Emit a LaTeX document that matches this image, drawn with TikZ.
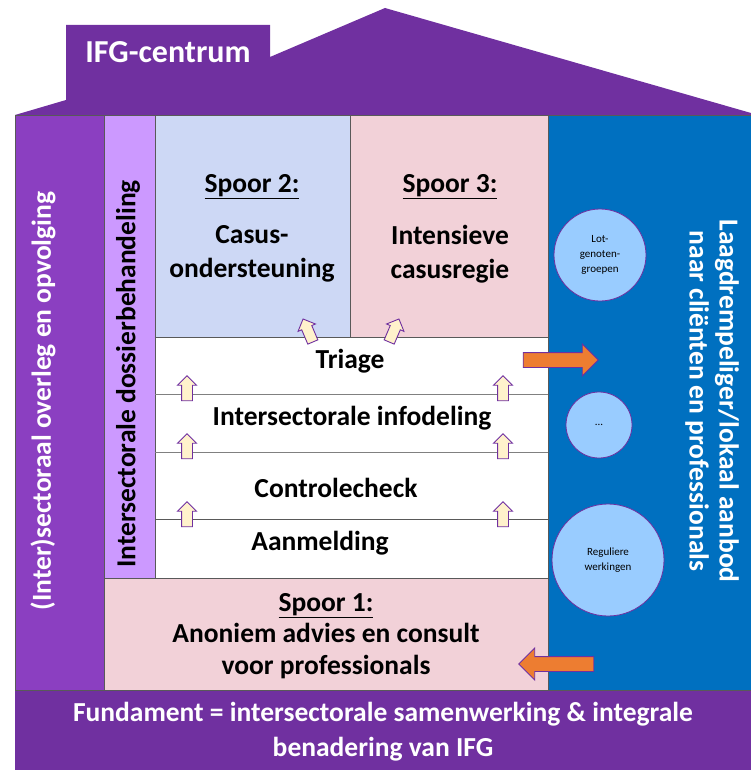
\documentclass[tikz,border=0pt]{standalone}
\usepackage{fontspec}
\setmainfont{Carlito}
\usepackage{tkz-graph}
\usetikzlibrary{arrows}
\usetikzlibrary{shapes}

\definecolor{purpleDark}{HTML}{7030A0}
\definecolor{purpleMid}{HTML}{8B3FC1}
\definecolor{purpleLight}{HTML}{CC99FF}
\definecolor{blueSpoor}{HTML}{CDD8F5}
\definecolor{pinkSpoor}{HTML}{F2D1D8}
\definecolor{blueColumn}{HTML}{0070C0}
\definecolor{circleBlue}{HTML}{99CCFF}
\definecolor{arrowOrange}{HTML}{ED7D31}
\definecolor{arrowCream}{HTML}{FFF2CC}
\definecolor{lineGray}{HTML}{595959}

\begin{document}
\begin{tikzpicture}[x = 1pt, y = -1pt]
	\tikzstyle{VertexStyle} = []
	\tikzstyle{EdgeStyle} = []
	\tikzstyle{boxStyle} = [draw = lineGray, line width = 0.7pt]
	\tikzstyle{labelStyle} = [align = center, inner sep = 0pt, font = \fontsize{27.5}{32}\selectfont\bfseries]
	\tikzstyle{whiteLabelStyle} = [labelStyle, text = white]
	\tikzstyle{circleStyle} = [shape = circle, draw = purpleDark, fill = circleBlue, line width = 0.8pt, align = center, inner sep = 0pt, font = \fontsize{11}{15}\selectfont]
	\tikzstyle{upArrowStyle} = [single arrow, draw = purpleDark, fill = arrowCream, line width = 0.9pt, minimum height = 25pt, single arrow head extend = 4pt, inner xsep = 0pt, inner ysep = 5pt]
	\tikzstyle{sideArrowStyle} = [single arrow, draw = purpleDark, fill = arrowOrange, line width = 0.9pt, minimum height = 75pt, single arrow head extend = 8.5pt, inner xsep = 0pt, inner ysep = 7pt]
	\useasboundingbox (0,0) rectangle (751,770);
	\fill[purpleDark] (15,115) -- (66,100) -- (66,25) -- (270,25) -- (270,57) -- (385,8) -- (751,113) -- (751,115) -- cycle;
	\fill[purpleDark] (15,690) rectangle (751,770);
	\draw[boxStyle, fill = purpleMid] (15,115) rectangle (104,690);
	\draw[boxStyle, fill = purpleLight] (104,115) rectangle (155,578);
	\draw[boxStyle, fill = blueSpoor] (155,115) rectangle (350,337);
	\draw[boxStyle, fill = pinkSpoor] (350,115) rectangle (548,337);
	\draw[boxStyle, fill = white] (155,337) rectangle (548,578);
	\draw[boxStyle, fill = pinkSpoor] (104,578) rectangle (548,690);
	\draw[boxStyle, fill = blueColumn] (548,115) rectangle (751,690);
	\draw[draw = gray, line width = 0.7pt] (155,394) -- (548,394);
	\draw[draw = gray, line width = 0.7pt] (155,452) -- (548,452);
	\draw[boxStyle] (155,519) -- (548,519);
	\node[whiteLabelStyle, font = \fontsize{32}{36}\selectfont\bfseries] (title) at (168,52) {IFG-centrum};
	\node[whiteLabelStyle, rotate = 90] (overleg) at (43,401) {(Inter)sectoraal overleg en opvolging};
	\node[labelStyle, rotate = 90] (dossier) at (128,374) {Intersectorale dossierbehandeling};
	\node[whiteLabelStyle, rotate = -90, font = \fontsize{27.5}{30}\selectfont\bfseries] (aanbod) at (712,401) {Laagdrempeliger/lokaal aanbod\\naar cliënten en professionals};
	\node[labelStyle] (spoor2) at (252,187) {\underline{Spoor 2:}};
	\node[labelStyle, font = \fontsize{27.5}{34}\selectfont\bfseries] (casus) at (252,254) {Casus-\\ondersteuning};
	\node[labelStyle] (spoor3) at (450,187) {\underline{Spoor 3:}};
	\node[labelStyle, font = \fontsize{27.5}{34}\selectfont\bfseries] (regie) at (450,254) {Intensieve\\casusregie};
	\node[labelStyle] (triage) at (350,361) {Triage};
	\node[labelStyle] (infodeling) at (352,418) {Intersectorale infodeling};
	\node[labelStyle] (controle) at (336,488) {Controlecheck};
	\node[labelStyle] (aanmelding) at (320,543) {Aanmelding};
	\node[labelStyle, font = \fontsize{27.5}{31.5}\selectfont\bfseries] (spoor1) at (326,636) {\underline{Spoor 1:}\\Anoniem advies en consult\\voor professionals};
	\node[whiteLabelStyle, font = \fontsize{27.5}{35}\selectfont\bfseries] (fundament) at (383,732) {Fundament = intersectorale samenwerking \& integrale\\benadering van IFG};
	\Vertex[style = {circleStyle, minimum size = 92pt}, x = 600, y = 255, L = {Lot-\\genoten-\\groepen}]{c0}
	\Vertex[style = {circleStyle, minimum size = 66pt}, x = 599, y = 425, L = {...}]{c1}
	\Vertex[style = {circleStyle, minimum size = 112pt}, x = 608, y = 560, L = {Reguliere\\werkingen}]{c2}
	\node[upArrowStyle, rotate = 90] (a0) at (187,391) {};
	\node[upArrowStyle, rotate = 90] (a1) at (187,449) {};
	\node[upArrowStyle, rotate = 90] (a2) at (187,517) {};
	\node[upArrowStyle, rotate = 90] (a3) at (503,391) {};
	\node[upArrowStyle, rotate = 90] (a4) at (503,449) {};
	\node[upArrowStyle, rotate = 90] (a5) at (503,517) {};
	\node[upArrowStyle, rotate = 113] (a6) at (309,333) {};
	\node[upArrowStyle, rotate = 67] (a7) at (393,333) {};
	\node[sideArrowStyle] (toAanbod) at (557,360) {};
	\node[sideArrowStyle, rotate = 180] (toSpoor1) at (560,664) {};
\end{tikzpicture}
\end{document}
